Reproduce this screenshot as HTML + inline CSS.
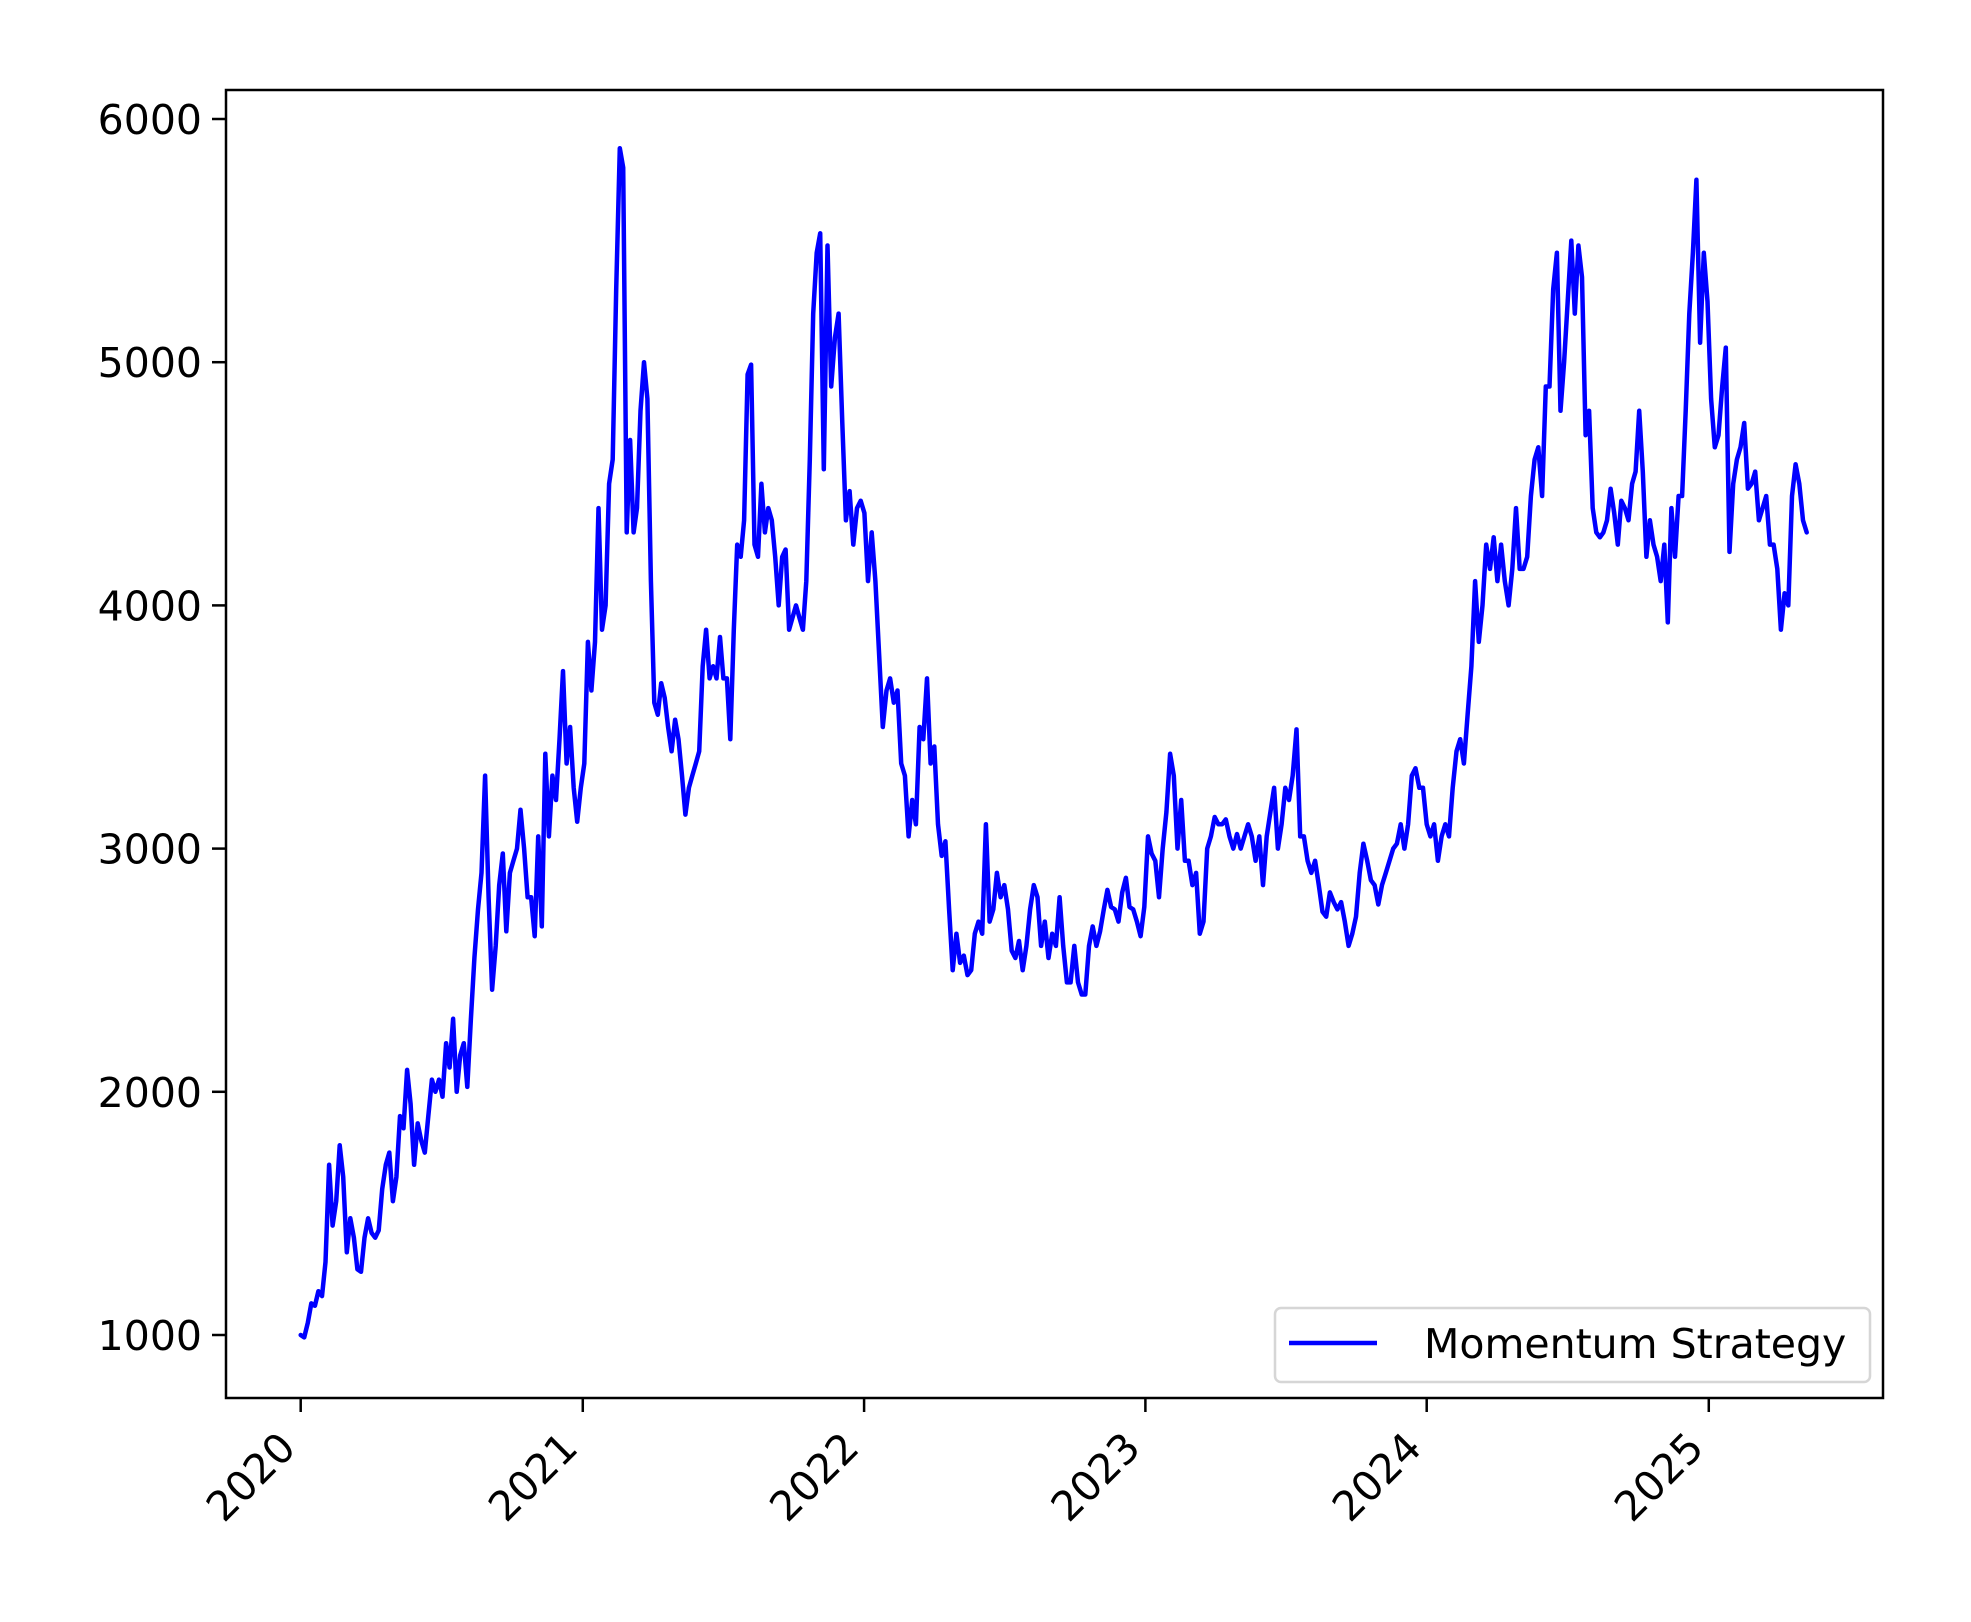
<!DOCTYPE html>
<html><head><meta charset="utf-8"><style>
html,body{margin:0;padding:0;background:#fff}
svg{display:block}
text{font-family:"DejaVu Sans","Liberation Sans",sans-serif;font-size:41px;fill:#000}
</style></head><body>
<svg id="chart" width="1971" height="1622" viewBox="0 0 1971 1622" xmlns="http://www.w3.org/2000/svg">
<rect x="0" y="0" width="1971" height="1622" fill="#fff"/>
<g id="plot"></g>
</svg>
<script>
const yTicks=[1000,2000,3000,4000,5000,6000];
const xTickYears=[2020,2021,2022,2023,2024,2025];
const anchorIdx=[0,90,148,243,277,347,386,416];
const anchorDates=["2020-01-01","2021-02-18","2021-11-05","2023-02-02","2023-07-16","2024-06-18","2024-12-16","2025-05-08"];
const values=[1000,990,1050,1130,1120,1180,1160,1300,1700,1450,1550,1780,1650,1340,1480,1400,1270,1260,1400,1480,1420,1400,1430,1600,1700,1750,1550,1650,1900,1850,2090,1950,1700,1870,1800,1750,1900,2050,2000,2050,1980,2200,2100,2300,2000,2150,2200,2020,2300,2550,2750,2900,3300,2800,2420,2600,2850,2980,2660,2900,2950,3000,3160,3000,2800,2800,2640,3050,2680,3390,3050,3300,3200,3450,3730,3350,3500,3250,3110,3250,3350,3850,3650,3850,4400,3900,4000,4500,4600,5300,5880,5800,4300,4680,4300,4400,4800,5000,4850,4100,3600,3550,3680,3620,3500,3400,3530,3450,3300,3140,3250,3300,3350,3400,3750,3900,3700,3750,3700,3870,3700,3700,3450,3900,4250,4200,4350,4950,4990,4250,4200,4500,4300,4400,4350,4200,4000,4200,4230,3900,3950,4000,3950,3900,4100,4600,5200,5450,5530,4560,5480,4900,5100,5200,4750,4350,4470,4250,4400,4430,4380,4100,4300,4100,3800,3500,3650,3700,3600,3650,3350,3300,3050,3200,3100,3500,3450,3700,3350,3420,3100,2970,3030,2750,2500,2650,2530,2560,2480,2500,2650,2700,2650,3100,2700,2750,2900,2800,2850,2750,2580,2550,2620,2500,2600,2750,2850,2800,2600,2700,2550,2650,2600,2800,2600,2450,2450,2600,2450,2400,2400,2600,2680,2600,2660,2750,2830,2760,2750,2700,2820,2880,2760,2750,2700,2640,2760,3050,2980,2950,2800,3000,3150,3390,3300,3000,3200,2950,2950,2850,2900,2650,2700,3000,3050,3130,3100,3100,3120,3050,3000,3060,3000,3050,3100,3050,2950,3050,2850,3050,3150,3250,3000,3100,3250,3200,3300,3490,3050,3050,2950,2900,2950,2850,2740,2720,2820,2780,2750,2780,2700,2600,2650,2720,2900,3020,2950,2870,2850,2770,2850,2900,2950,3000,3020,3100,3000,3100,3300,3330,3250,3250,3100,3050,3100,2950,3050,3100,3050,3250,3400,3450,3350,3550,3750,4100,3850,4000,4250,4150,4280,4100,4250,4100,4000,4150,4400,4150,4150,4200,4450,4600,4650,4450,4900,4900,5300,5450,4800,5000,5250,5500,5200,5480,5350,4700,4800,4400,4300,4280,4300,4350,4480,4380,4250,4430,4400,4350,4500,4550,4800,4550,4200,4350,4250,4200,4100,4250,3930,4400,4200,4450,4450,4800,5200,5450,5750,5080,5450,5250,4850,4650,4700,4900,5060,4220,4500,4600,4650,4750,4480,4500,4550,4350,4400,4450,4250,4250,4150,3900,4050,4000,4450,4580,4500,4350,4300];

const L=226,R=1883,T=90,B=1398;
const NS="http://www.w3.org/2000/svg";
const g=document.getElementById('plot');
const DAY=86400000;
const t0=Date.UTC(2020,0,1);
function xScale(ms){return 300.7+(ms-t0)/DAY/365.25*281.5;}
function yScale(v){return 119+(6000-v)*(1335-119)/5000;}
function mk(tag,attrs){const e=document.createElementNS(NS,tag);for(const k in attrs)e.setAttribute(k,attrs[k]);g.appendChild(e);return e;}

const aMs=anchorDates.map(s=>Date.parse(s));
function dateAt(i){
  for(let k=0;k<anchorIdx.length-1;k++){
    if(i<=anchorIdx[k+1]||k===anchorIdx.length-2){
      const f=(i-anchorIdx[k])/(anchorIdx[k+1]-anchorIdx[k]);
      return aMs[k]+f*(aMs[k+1]-aMs[k]);
    }
  }
}
const dates=values.map((_,i)=>dateAt(i));

let d='';
values.forEach((v,i)=>{d+=(i?'L':'M')+xScale(dates[i]).toFixed(1)+' '+yScale(v).toFixed(1);});
const line=mk('path',{d:d,fill:'none',stroke:'#0000ff','stroke-width':4.5,'stroke-linejoin':'round','stroke-linecap':'round'});



const fr=mk('rect',{x:L,y:T,width:R-L,height:B-T,fill:'none',stroke:'#000','stroke-width':2.5});



yTicks.forEach(v=>{
  const y=yScale(v);
  const tk=mk('line',{x1:L-14,x2:L,y1:y,y2:y,stroke:'#000','stroke-width':2.5});
  
  
  const t=mk('text',{x:L-24,y:y+15,'text-anchor':'end'});
  t.textContent=v;
  
  
});
xTickYears.forEach(yr=>{
  const x=xScale(Date.UTC(yr,0,1));
  const tk=mk('line',{x1:x,x2:x,y1:B,y2:B+14,stroke:'#000','stroke-width':2.5});
  
  
  const t=mk('text',{transform:`translate(${x-3},${B+52}) rotate(-45)`,'text-anchor':'end'});
  t.textContent=yr;
  
  
});
const lb=mk('rect',{x:1275,y:1308,width:595,height:74,rx:6,fill:'#fff','fill-opacity':0.8,stroke:'#d6d6d6','stroke-width':2.5});


const ll=mk('line',{x1:1289,x2:1377,y1:1343,y2:1343,stroke:'#0000ff','stroke-width':4.5});


const lt=mk('text',{x:1424,y:1358});
lt.textContent='Momentum Strategy';


</script>
</body></html>
